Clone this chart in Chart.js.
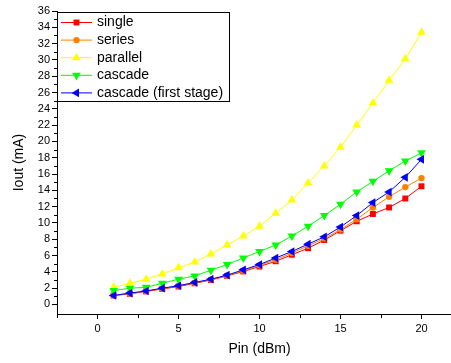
<!DOCTYPE html>
<html lang="en">
<head>
  <meta charset="UTF-8">
  <title>Iout vs Pin</title>
  <script src="https://cdn.jsdelivr.net/npm/chart.js"></script>
  <style>
    html,body {margin:0;padding:0;background:#fff}
    #wrap {width:451px;height:363px;overflow:hidden}
  </style>
</head>
<body>
<div id="wrap"><canvas id="chart" width="467" height="363"></canvas></div>
<script>
// Datos
const pin      = [1,2,3,4,5,6,7,8,9,10,11,12,13,14,15,16,17,18,19,20];
const single   = [1.1,1.3,1.6,1.9,2.2,2.6,3.0,3.5,4.05,4.65,5.3,6.1,6.9,7.9,9.05,10.2,11.1,11.9,13.0,14.5];
const series   = [1.15,1.35,1.65,1.95,2.3,2.65,3.05,3.55,4.15,4.8,5.5,6.3,7.2,8.1,9.2,10.45,11.9,13.2,14.4,15.5];
const parallel = [2.1,2.6,3.1,3.75,4.5,5.2,6.2,7.3,8.4,9.6,11.2,12.8,14.9,17.0,19.3,22.0,24.7,27.5,30.1,33.4];
const cascade  = [1.7,2.0,2.1,2.6,3.1,3.5,4.2,4.9,5.7,6.5,7.3,8.4,9.6,10.9,12.3,13.8,15.1,16.4,17.6,18.6];
const firstStage = [1.1,1.4,1.65,2.0,2.3,2.7,3.1,3.6,4.25,4.9,5.7,6.5,7.4,8.3,9.5,10.9,12.5,13.8,15.6,17.8];

const xMajor = [0,5,10,15,20];
const xMinor = [-2.5,2.5,7.5,12.5,17.5,22.5];
const yMajor = [0,2,4,6,8,10,12,14,16,18,20,22,24,26,28,30,32,34,36];
const yMinor = [1,3,5,7,9,11,13,15,17,19,21,23,25,27,29,31,33,35];

const FONT = "'Liberation Sans', Arial, sans-serif";

function serie(label, data, color, style, rot, r, order){
  return {
    label, data: data.map((v,i)=>({x:pin[i], y:v})),
    borderColor: color, backgroundColor: color, borderWidth: 1,
    pointStyle: style, rotation: rot, pointRadius: r, pointBorderWidth: 0,
    pointHoverRadius: r, tension: 0, order
  };
}

// ticks menores mas cortos
const minorTicks = {
  id: 'minorTicks',
  afterDraw(chart){
    const ctx = chart.ctx, xs = chart.scales.x, ys = chart.scales.y;
    ctx.save();
    ctx.strokeStyle = '#000'; ctx.lineWidth = 1;
    ctx.beginPath();
    yMinor.forEach(v => {
      const y = Math.round(ys.getPixelForValue(v)) + 0.5;
      ctx.moveTo(ys.right - 3, y); ctx.lineTo(ys.right, y);
    });
    xMinor.forEach(v => {
      const x = Math.round(xs.getPixelForValue(v)) + 0.5;
      ctx.moveTo(x, xs.top); ctx.lineTo(x, xs.top + 4);
    });
    ctx.stroke();
    ctx.restore();
  }
};

// leyenda estilo Origin: linea + marcador dentro de un recuadro
const boxLegend = {
  id: 'boxLegend',
  afterDraw(chart){
    const ctx = chart.ctx;
    const dss = chart.data.datasets;
    ctx.save();
    ctx.fillStyle = '#fff';
    ctx.fillRect(57.5, 12.5, 172, 89);
    ctx.strokeStyle = '#000'; ctx.lineWidth = 1;
    ctx.strokeRect(57.5, 12.5, 172, 89);
    ctx.font = '14px ' + FONT;
    ctx.textBaseline = 'middle';
    dss.forEach((d, i) => {
      const y = 22.5 + i * 17.6;
      ctx.strokeStyle = d.borderColor;
      ctx.beginPath(); ctx.moveTo(61, y); ctx.lineTo(92, y); ctx.stroke();
      ctx.fillStyle = d.backgroundColor;
      Chart.helpers.drawPoint(ctx, {pointStyle: d.pointStyle, rotation: d.rotation, radius: d.pointRadius, borderWidth: 0}, 76.5, y);
      ctx.fillStyle = '#000';
      ctx.fillText(d.label, 97, y);
    });
    ctx.restore();
  }
};

new Chart(document.getElementById('chart'), {
  type: 'line',
  data: {
    datasets: [
      serie('single', single, '#ff0000', 'rect', 0, 4.2, 4),
      serie('series', series, '#ff8000', 'circle', 0, 3.2, 3),
      serie('parallel', parallel, '#ffff00', 'triangle', 0, 5, 2),
      serie('cascade', cascade, '#00ff00', 'triangle', 180, 5, 1),
      serie('cascade (first stage)', firstStage, '#0000ff', 'triangle', 270, 5, 0)
    ]
  },
  options: {
    responsive: false,
    animation: false,
    layout: { padding: { top: 11, right: 0, left: 0, bottom: 0 } },
    plugins: { legend: { display: false }, tooltip: { enabled: false } },
    scales: {
      x: {
        type: 'linear', min: -2.5, max: 22.5,
        afterBuildTicks: a => { a.ticks = xMajor.map(v => ({value: v})); },
        afterFit: a => { a.height = 49; },
        border: { color: '#000', width: 1 },
        grid: { drawOnChartArea: false, drawTicks: true, tickLength: 5, color: '#000' },
        ticks: { color: '#000', font: { family: FONT, size: 11 }, padding: 3, maxRotation: 0 },
        title: { display: true, text: 'Pin (dBm)', color: '#000', font: { family: FONT, size: 14 }, padding: { top: 0, bottom: 5 } }
      },
      y: {
        type: 'linear', min: -1.17, max: 36,
        afterBuildTicks: a => { a.ticks = yMajor.map(v => ({value: v})); },
        afterFit: a => { a.width = 57; },
        border: { color: '#000', width: 1 },
        grid: { drawOnChartArea: false, drawTicks: true, tickLength: 5, color: '#000' },
        ticks: { color: '#000', font: { family: FONT, size: 11 }, padding: 2 },
        title: { display: true, text: 'Iout (mA)', color: '#000', font: { family: FONT, size: 14 }, padding: { top: 11, bottom: 0 } }
      }
    }
  },
  plugins: [minorTicks, boxLegend]
});
</script>
</body>
</html>
